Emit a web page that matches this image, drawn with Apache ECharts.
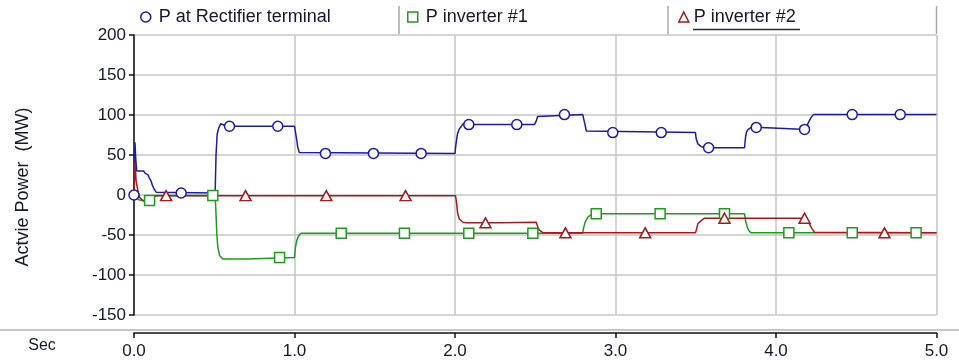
<!DOCTYPE html>
<html>
<head>
<meta charset="utf-8">
<script src="https://cdn.jsdelivr.net/npm/echarts@6/dist/echarts.min.js"></script>
<style>
  html, body { margin: 0; padding: 0; background: #ffffff; }
  #chart { width: 959px; height: 362px; }
</style>
</head>
<body>
<div id="chart"></div>
<script>
// Series names as shown in the legend
const seriesNames = ['P at Rectifier terminal', 'P inverter #1', 'P inverter #2'];
const seriesColors = ['#1c1ca0', '#1f9a1f', '#a01c1c'];

// Active power traces, [time (s), power (MW)]
const rectifierP = [
  [0, 0], [0.004, 0], [0.006, 66], [0.011, 45], [0.017, 30], [0.024, 28.5], [0.03, 30], [0.06, 30],
  [0.07, 27], [0.086, 25.5], [0.095, 21.5], [0.105, 18], [0.115, 12], [0.125, 7.5], [0.138, 3.5],
  [0.15, 2.5], [0.5, 2.5], [0.506, 6], [0.511, 50], [0.518, 76], [0.528, 84], [0.54, 89], [0.56, 87.5],
  [0.58, 86], [1.0, 86], [1.006, 84], [1.013, 70], [1.02, 60], [1.03, 53], [1.04, 52], [2.0, 52],
  [2.005, 62], [2.015, 76], [2.025, 82], [2.04, 86], [2.05, 89], [2.1, 88], [2.495, 88], [2.505, 92],
  [2.515, 98], [2.527, 100.5], [2.796, 100.5], [2.802, 95], [2.81, 88], [2.818, 80], [2.83, 78],
  [3.498, 78], [3.503, 70], [3.513, 64], [3.534, 60.5], [3.554, 59], [3.804, 59], [3.81, 72],
  [3.816, 78.5], [3.824, 81.5], [3.845, 84.5], [3.91, 84.5], [3.92, 82], [4.188, 82], [4.198, 89],
  [4.208, 93], [4.219, 97], [4.233, 100.5], [5.0, 100.5]
];
const inverter1P = [
  [0, 0], [0.004, 0], [0.012, -3], [0.03, -6], [0.05, -7], [0.095, -7], [0.108, -4], [0.125, -1.5],
  [0.14, -0.5], [0.505, -0.5], [0.508, -10], [0.516, -48.5], [0.522, -65], [0.533, -75.5],
  [0.553, -80], [0.7, -80], [0.705, -78.2], [1.0, -78.2], [1.006, -65], [1.014, -57], [1.027, -50.5],
  [1.042, -47.7], [2.796, -47.7], [2.8, -42], [2.811, -34], [2.828, -27.7], [2.848, -24.4],
  [2.87, -23.5], [3.804, -23.5], [3.81, -32], [3.818, -38], [3.83, -44.4], [3.845, -47.3], [5.0, -47.3]
];
const inverter2P = [
  [0, 0], [0.003, 0], [0.006, 41], [0.013, 18], [0.024, 5.5], [0.034, -2.7], [0.055, -7], [0.076, -9],
  [0.097, -7], [0.117, -3.5], [0.138, -0.8], [2.003, -0.8], [2.008, -7], [2.017, -23.5], [2.027, -30],
  [2.049, -34], [2.07, -34.8], [2.277, -34.8], [2.28, -34], [2.506, -34], [2.516, -40], [2.526, -44],
  [2.537, -46.5], [2.55, -47.3], [3.498, -47.3], [3.503, -44.4], [3.513, -36], [3.534, -32],
  [3.554, -29], [4.188, -29], [4.198, -33], [4.208, -36], [4.225, -42.3], [4.24, -46.5], [4.25, -47.3],
  [5.0, -47.3]
];

// Marker positions along each trace, [time (s), power (MW)]
const rectifierMarks = [
  [0, 0], [0.294, 2.5], [0.595, 86], [0.896, 86], [1.193, 52], [1.492, 52], [1.789, 52], [2.086, 88],
  [2.385, 88], [2.682, 100.5], [2.983, 78], [3.285, 78], [3.58, 59], [3.877, 84.5], [4.178, 82],
  [4.475, 100.5], [4.774, 100.5]
];
const inverter1Marks = [
  [0.097, -7], [0.491, -0.5], [0.907, -78.2], [1.291, -47.7], [1.685, -47.7], [2.086, -47.7],
  [2.485, -47.7], [2.88, -23.5], [3.278, -23.5], [3.679, -23.5], [4.08, -47.3], [4.475, -47.3],
  [4.873, -47.3]
];
const inverter2Marks = [
  [0.2, -0.8], [0.695, -0.8], [1.198, -0.8], [1.692, -0.8], [2.19, -34.8], [2.688, -47.3],
  [3.185, -47.3], [3.679, -29], [4.178, -29], [4.676, -47.3]
];

const traces = [rectifierP, inverter1P, inverter2P];
const marks = [rectifierMarks, inverter1Marks, inverter2Marks];
const markSymbols = ['circle', 'rect', 'triangle'];

const FONT = '"Liberation Sans", Arial, sans-serif';
const TEXT = '#16162e';
const GRID_GRAY = '#c4c4c4';

const chart = echarts.init(document.getElementById('chart'), null, { renderer: 'canvas' });

const series = [];
traces.forEach((d, i) => {
  series.push({
    name: seriesNames[i], type: 'line', data: d, symbol: 'none',
    lineStyle: { color: seriesColors[i], width: 1.5 }, itemStyle: { color: seriesColors[i] },
    z: 2 + i, animation: false
  });
});
marks.forEach((d, i) => {
  series.push({
    name: seriesNames[i], type: 'scatter', data: d, symbol: markSymbols[i],
    symbolSize: i === 2 ? [11, 10] : 10, clip: false,
    itemStyle: { color: '#ffffff', borderColor: seriesColors[i], borderWidth: 1.5, opacity: 1 },
    z: 6 + i, animation: false
  });
});

const legendLefts = [140, 407, 678];
const legends = seriesNames.map((n, i) => ({
  data: [n], left: legendLefts[i], top: 8, padding: 0, selectedMode: false,
  icon: markSymbols[i], itemWidth: 10, itemHeight: 10,
  itemStyle: { color: '#ffffff', borderColor: seriesColors[i], borderWidth: 1.5 },
  textStyle: { fontFamily: FONT, fontSize: 18, color: TEXT, padding: [0, 0, 0, i === 2 ? 0 : 3] }
}));

const option = {
  backgroundColor: '#ffffff',
  animation: false,
  grid: { left: 134, right: 22.5, top: 35, bottom: 47, containLabel: false },
  legend: legends,
  xAxis: {
    type: 'value', min: 0, max: 5, interval: 1, offset: 18,
    axisLine: { show: true, onZero: false, lineStyle: { color: '#111', width: 1.5 } },
    axisTick: { show: true, inside: false, length: 5, lineStyle: { color: '#111', width: 1.5 } },
    axisLabel: { formatter: v => v.toFixed(1), fontFamily: FONT, fontSize: 17, color: TEXT, margin: 10 },
    splitLine: { show: true, lineStyle: { color: GRID_GRAY, width: 1.5 } }
  },
  yAxis: {
    type: 'value', min: -150, max: 200, interval: 50,
    axisLine: { show: true, onZero: false, lineStyle: { color: '#111', width: 1.5 } },
    axisTick: { show: true, inside: false, length: 5, lineStyle: { color: '#111', width: 1.5 } },
    axisLabel: { fontFamily: FONT, fontSize: 17, color: TEXT, margin: 8 },
    splitLine: { show: true, lineStyle: { color: GRID_GRAY, width: 1.5 } }
  },
  graphic: [
    // rule separating the plot from the time axis
    { type: 'line', shape: { x1: 0, y1: 330, x2: 959, y2: 330 }, style: { stroke: '#b4b4b4', lineWidth: 1.5 }, silent: true },
    // legend cell separators
    { type: 'line', shape: { x1: 399, y1: 6, x2: 399, y2: 34 }, style: { stroke: '#a8a8a8', lineWidth: 1.5 }, silent: true },
    { type: 'line', shape: { x1: 668, y1: 6, x2: 668, y2: 34 }, style: { stroke: '#a8a8a8', lineWidth: 1.5 }, silent: true },
    { type: 'line', shape: { x1: 936.5, y1: 6, x2: 936.5, y2: 34 }, style: { stroke: '#a8a8a8', lineWidth: 1.5 }, silent: true },
    // underline of the active legend entry
    { type: 'line', shape: { x1: 693, y1: 29.5, x2: 800, y2: 29.5 }, style: { stroke: '#2a2a3a', lineWidth: 1.5 }, silent: true },
    // time unit label
    { type: 'text', x: 42, y: 346, style: { text: 'Sec', fontFamily: FONT, fontSize: 16, fill: TEXT, textAlign: 'center', textVerticalAlign: 'middle' }, silent: true },
    // vertical axis title
    { type: 'text', x: 23, y: 187, rotation: Math.PI / 2,
      style: { text: 'Actvie Power  (MW)', fontFamily: FONT, fontSize: 18, fill: TEXT, textAlign: 'center', textVerticalAlign: 'middle' }, silent: true }
  ],
  series: series
};

chart.setOption(option);
</script>
</body>
</html>
